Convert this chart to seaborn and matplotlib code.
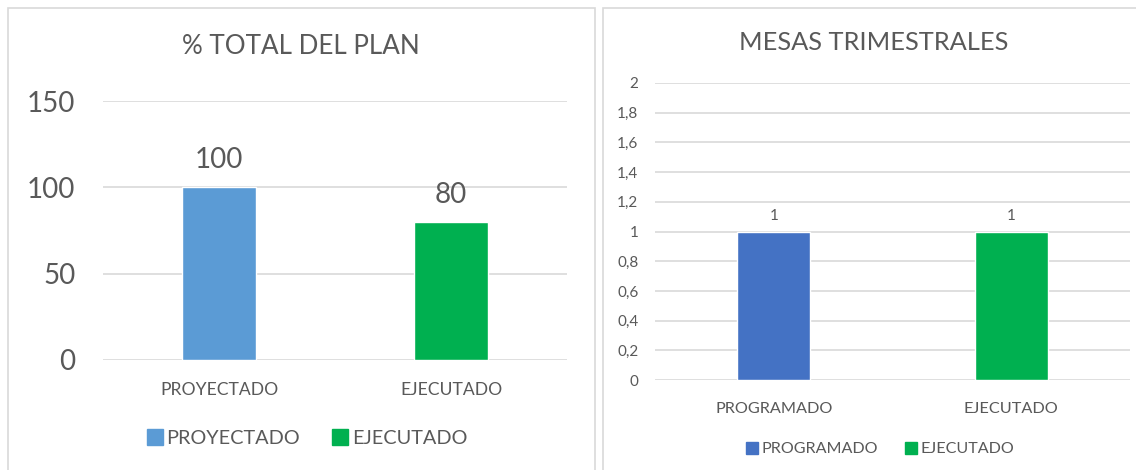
import matplotlib
matplotlib.use("Agg")
import matplotlib.pyplot as plt
import seaborn as sns
from matplotlib.patches import Rectangle
from matplotlib.lines import Line2D

# ---- data ----
left_title = "% TOTAL DEL PLAN"
left_cats = ["PROYECTADO", "EJECUTADO"]
left_vals = [100, 80]
left_ticks = [0, 50, 100, 150]

right_title = "MESAS TRIMESTRALES"
right_cats = ["PROGRAMADO", "EJECUTADO"]
right_vals = [1, 1]
right_ticks = [0, 0.2, 0.4, 0.6, 0.8, 1.0, 1.2, 1.4, 1.6, 1.8, 2.0]

left_colors = ["#5B9BD5", "#00B050"]
right_colors = ["#4472C4", "#00B050"]
TXT = "#595959"
GRID = "#D9D9D9"

sns.set_theme(style="white")
plt.rcParams['font.family'] = ['Lato', 'DejaVu Sans']

W, H = 1136, 470
fig = plt.figure(figsize=(W / 100, H / 100), dpi=100)

def fx(px):
    return px / W

def fy(py):
    return 1 - py / H

# panel frames
for x0, x1 in [(8, 595), (603, 1145)]:
    fig.patches.append(Rectangle((fx(x0), -0.05), fx(x1 - x0), fy(8) + 0.05,
                                 transform=fig.transFigure, fill=False,
                                 edgecolor=GRID, linewidth=1.2))

def fmt_es(v):
    s = f"{v:g}"
    return s.replace(".", ",")

def panel(ax_rect, cats, vals, colors, ticks, ylim, tick_fs, tick_pad, lab_fs, lab_pad,
          bar_fs, bar_pad, width, label_fmt):
    ax = fig.add_axes(ax_rect)
    sns.barplot(x=cats, y=vals, hue=cats, palette=colors, width=width,
                legend=False, ax=ax, saturation=1)
    ax.set_ylim(*ylim)
    ax.set_xlim(-0.5, 1.5)
    ax.set_yticks(ticks)
    ax.set_yticklabels([label_fmt(t) for t in ticks], fontsize=tick_fs, color=TXT)
    ax.tick_params(axis='x', labelsize=lab_fs, colors=TXT, length=0, pad=lab_pad)
    ax.tick_params(axis='y', length=0, pad=tick_pad)
    ax.grid(axis='y', color=GRID, linewidth=1.2)
    ax.set_axisbelow(True)
    for s in ax.spines.values():
        s.set_visible(False)
    for c in ax.containers:
        ax.bar_label(c, labels=[label_fmt(v) for v in c.datavalues],
                     fontsize=bar_fs, color=TXT, padding=bar_pad)
    ax.set_facecolor("none")
    return ax

# left panel
panel([fx(103), fy(360), fx(567 - 103), (360 - 101) / H],
      left_cats, left_vals, left_colors, left_ticks, (0, 150),
      20, 20, 12.6, 16, 20, 10, 0.315, lambda v: f"{v:g}")
fig.text(fx(301), fy(47), left_title, ha='center', va='center', fontsize=18.7, color=TXT)
h1 = [Line2D([], [], marker='s', linestyle='none', markersize=11,
             markerfacecolor=c, markeredgecolor=c) for c in left_colors]
fig.legend(h1, left_cats, loc='center', bbox_to_anchor=(fx(307), fy(438)), ncol=2,
           frameon=False, fontsize=14.3, labelcolor=TXT, handletextpad=0.2,
           columnspacing=1.6, handlelength=0.8)

# right panel
panel([fx(655), fy(380), fx(1130 - 655), (380 - 83) / H],
      right_cats, right_vals, right_colors, right_ticks, (0, 2),
      11, 12, 11.7, 16, 11, 6, 0.307, fmt_es)
fig.text(fx(874), fy(42), right_title, ha='center', va='center', fontsize=18.3, color=TXT)
h2 = [Line2D([], [], marker='s', linestyle='none', markersize=8,
             markerfacecolor=c, markeredgecolor=c) for c in right_colors]
fig.legend(h2, right_cats, loc='center', bbox_to_anchor=(fx(880), fy(449)), ncol=2,
           frameon=False, fontsize=11.6, labelcolor=TXT, handletextpad=0.2,
           columnspacing=1.6, handlelength=0.8)

fig.savefig("out.png", dpi=100, facecolor="white")
